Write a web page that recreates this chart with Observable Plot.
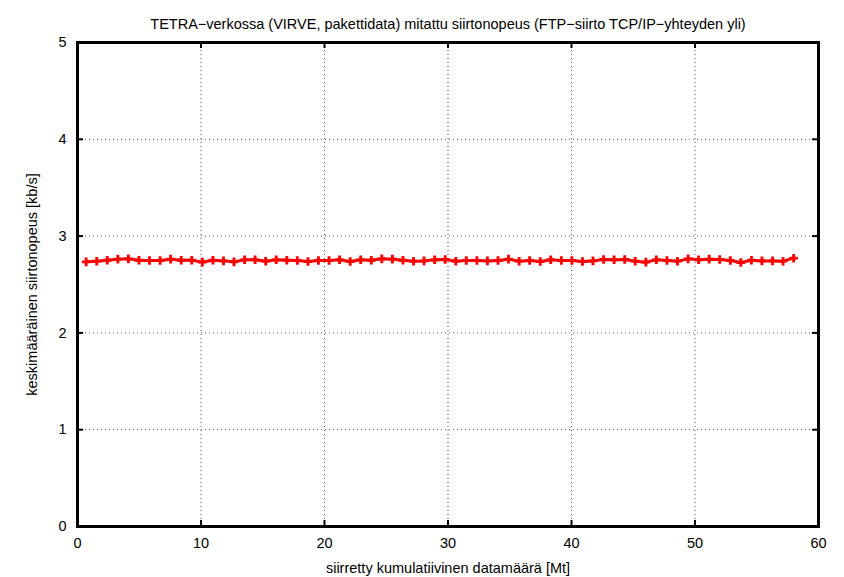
<!DOCTYPE html>
<html><head><meta charset="utf-8">
<script src="https://cdn.jsdelivr.net/npm/d3@7"></script>
<script src="https://cdn.jsdelivr.net/npm/@observablehq/plot@0.6"></script>
<style>body{margin:0;background:#fff}</style>
</head><body><div id="chart"></div>
<script>
const titleText = "TETRA−verkossa (VIRVE, pakettidata) mitattu siirtonopeus (FTP−siirto TCP/IP−yhteyden yli)";
const xLabel = "siirretty kumulatiivinen datamäärä [Mt]";
const yLabel = "keskimääräinen siirtonopeus [kb/s]";
const xTicks = [0, 10, 20, 30, 40, 50, 60];
const yTicks = [0, 1, 2, 3, 4, 5];
const transferred = [
  0.70, 1.56, 2.41, 3.27, 4.12, 4.98, 5.83, 6.69, 7.54, 8.40,
  9.25, 10.11, 10.96, 11.82, 12.67, 13.53, 14.38, 15.24, 16.09, 16.95,
  17.80, 18.66, 19.51, 20.37, 21.22, 22.08, 22.93, 23.79, 24.64, 25.50,
  26.35, 27.21, 28.06, 28.92, 29.77, 30.63, 31.48, 32.34, 33.19, 34.05,
  34.90, 35.76, 36.61, 37.47, 38.32, 39.18, 40.03, 40.89, 41.74, 42.60,
  43.45, 44.31, 45.16, 46.02, 46.87, 47.73, 48.58, 49.44, 50.29, 51.15,
  52.00, 52.86, 53.71, 54.57, 55.42, 56.28, 57.13, 57.99
];
const throughput = [
  2.734, 2.741, 2.751, 2.762, 2.765, 2.751, 2.748, 2.748, 2.762, 2.751,
  2.751, 2.731, 2.751, 2.744, 2.734, 2.755, 2.755, 2.741, 2.755, 2.751,
  2.748, 2.738, 2.748, 2.748, 2.755, 2.738, 2.755, 2.751, 2.765, 2.762,
  2.751, 2.741, 2.744, 2.755, 2.758, 2.741, 2.748, 2.748, 2.744, 2.748,
  2.762, 2.741, 2.748, 2.738, 2.755, 2.748, 2.748, 2.738, 2.744, 2.758,
  2.755, 2.758, 2.741, 2.731, 2.755, 2.748, 2.741, 2.765, 2.755, 2.762,
  2.758, 2.748, 2.727, 2.751, 2.744, 2.744, 2.741, 2.772
];
const data = transferred.map((x, i) => ({x, y: throughput[i]}));

const W = 844, H = 577, mL = 77, mR = 26, mT = 42, mB = 51;
const frameW = W - mL - mR, frameH = H - mT - mB, tickLen = 6;
const fs = 14.5;

const chart = Plot.plot({
  width: W,
  height: H,
  marginLeft: mL,
  marginRight: mR,
  marginTop: mT,
  marginBottom: mB,
  x: {domain: [0, 60]},
  y: {domain: [0, 5]},
  style: {fontFamily: "'Liberation Sans', Arial, sans-serif", fontSize: fs + "px", background: "#fff", color: "#000"},
  marks: [
    Plot.gridX(xTicks.slice(1, -1), {stroke: "#555", strokeOpacity: 1, strokeDasharray: "1,3"}),
    Plot.gridY(yTicks.slice(1, -1), {stroke: "#555", strokeOpacity: 1, strokeDasharray: "1,3"}),
    Plot.line(data, {x: "x", y: "y", stroke: "#ff0000", strokeWidth: 3}),
    Plot.dot(data, {x: "x", y: "y", symbol: "cross", fill: "#ff0000", r: 3.6}),
    Plot.axisX(xTicks, {anchor: "bottom", tickSize: 0, tickPadding: 11, label: xLabel, labelAnchor: "center", labelOffset: 46, labelArrow: "none", fontSize: fs}),
    Plot.axisY(yTicks, {anchor: "left", tickSize: 0, tickPadding: 11, tickFormat: "d", label: yLabel, labelAnchor: "center", labelOffset: 51, labelArrow: "none", fontSize: fs}),
    Plot.tickX(xTicks, {x: d => d, insetTop: frameH - tickLen, strokeWidth: 2}),
    Plot.tickX(xTicks, {x: d => d, insetBottom: frameH - tickLen, strokeWidth: 2}),
    Plot.tickY(yTicks, {y: d => d, insetRight: frameW - tickLen, strokeWidth: 2}),
    Plot.tickY(yTicks, {y: d => d, insetLeft: frameW - tickLen, strokeWidth: 2}),
    Plot.frame({stroke: "#000", strokeWidth: 3}),
    Plot.text([titleText], {text: d => d, frameAnchor: "top", dy: -24, fontSize: fs})
  ]
});
document.getElementById("chart").appendChild(chart);
</script>
</body></html>
